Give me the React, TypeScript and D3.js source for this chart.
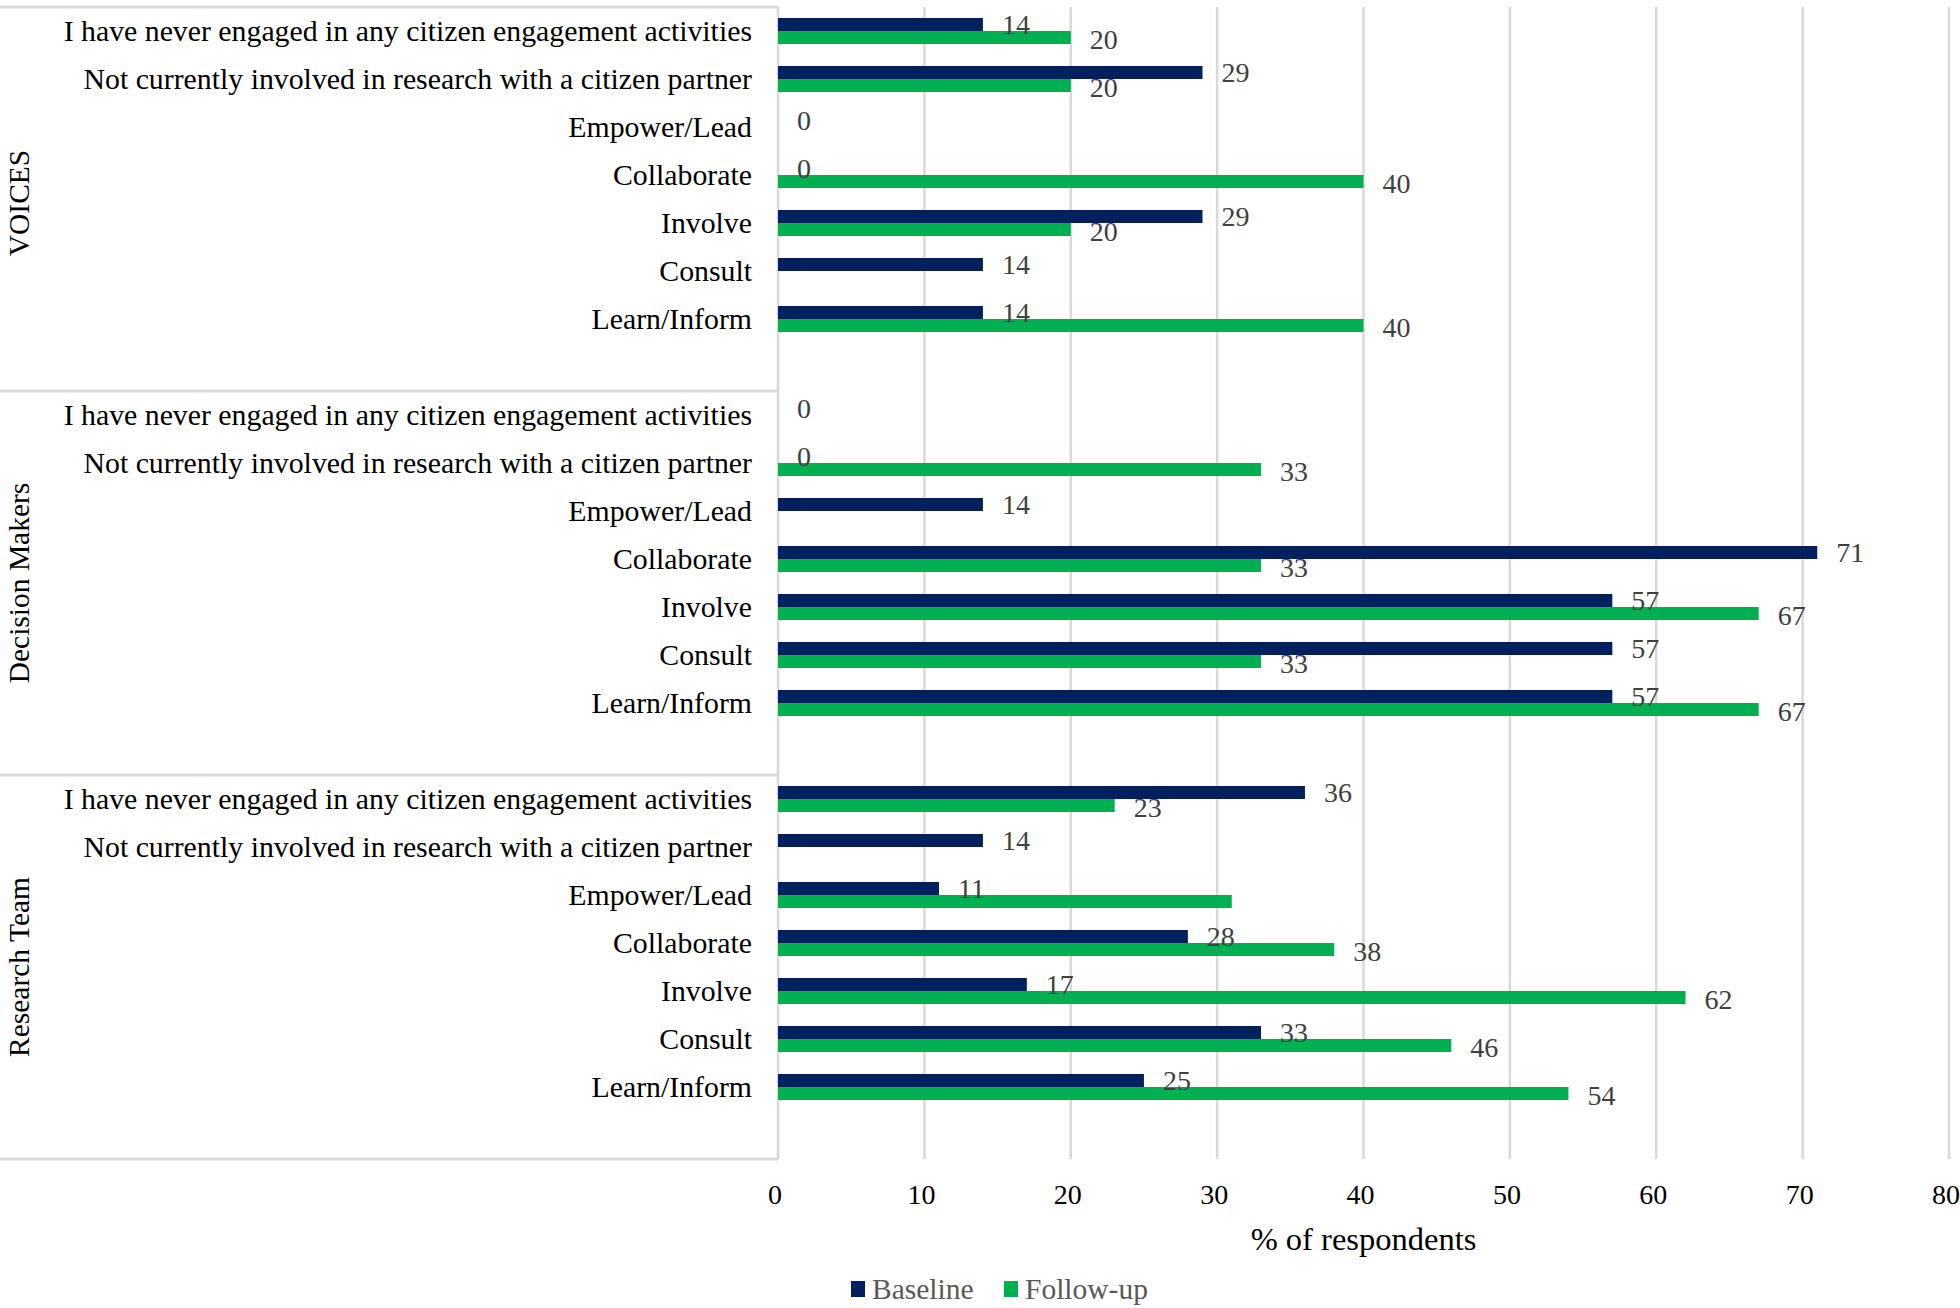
import React from "react";
import * as d3 from "d3";

const groups = ["VOICES", "Decision Makers", "Research Team"];
const categories = [
  "I have never engaged in any citizen engagement activities",
  "Not currently involved in research with a citizen partner",
  "Empower/Lead",
  "Collaborate",
  "Involve",
  "Consult",
  "Learn/Inform",
];
const seriesNames = ["Baseline", "Follow-up"];
// values per group, in category order (null = no bar / no label)
const baselineVoices = [14, 29, 0, 0, 29, 14, 14];
const followupVoices = [20, 20, null, 40, 20, null, 40];
const baselineDecision = [0, 0, 14, 71, 57, 57, 57];
const followupDecision = [null, 33, null, 33, 67, 33, 67];
const baselineResearch = [36, 14, 11, 28, 17, 33, 25];
const followupResearch = [23, null, 31, 38, 62, 46, 54];
// label shown for each follow-up value (Research Team Empower/Lead has no label)
const followupResearchLabelShown = [true, true, false, true, true, true, true];
const xTicks = [0, 10, 20, 30, 40, 50, 60, 70, 80];
const xTitle = "% of respondents";

const COLORS = { Baseline: "#002060", "Follow-up": "#00B050" };
const W = 1960;
const H = 1308;
const FONT = "'Liberation Serif', 'Times New Roman', serif";

export default function App() {
  const baseline = [baselineVoices, baselineDecision, baselineResearch];
  const followup = [followupVoices, followupDecision, followupResearch];
  const slotsPerGroup = categories.length + 1;
  const slotKeys = d3.range(groups.length * slotsPerGroup).map(String);

  const plotTop = 7;
  const plotBottom = 1159;
  const axisX = 778;
  const x = d3.scaleLinear().domain([0, 80]).range([axisX, 1949]);
  const y = d3.scaleBand<string>().domain(slotKeys).range([plotTop, plotBottom]).padding(0);
  const barPairH = 26;

  const rows: any[] = [];
  groups.forEach((g, gi) => {
    categories.forEach((c, ci) => {
      const key = String(gi * slotsPerGroup + ci);
      const center = (y(key) as number) + y.bandwidth() / 2;
      const inner = d3
        .scaleBand<string>()
        .domain(seriesNames)
        .range([center - barPairH / 2, center + barPairH / 2]);
      rows.push({
        g,
        gi,
        c,
        ci,
        center,
        inner,
        b: baseline[gi][ci],
        f: followup[gi][ci],
        fShow: gi === 2 ? followupResearchLabelShown[ci] : true,
      });
    });
  });

  const groupTop = (gi: number) => y(String(gi * slotsPerGroup)) as number;
  const groupH = y.bandwidth() * slotsPerGroup;
  const sepYs = [0, 1, 2].map(groupTop).concat([plotBottom]);
  const lineColor = "#D9D9D9";

  return (
    <div style={{ position: "absolute", left: 0, top: 0 }}>
      <svg width={W} height={H} style={{ display: "block", background: "#fff" }} fontFamily={FONT}>
        <rect x={0} y={0} width={W} height={H} fill="#fff" />
        {/* gridlines */}
        {xTicks.map((t) => (
          <line key={"g" + t} x1={x(t)} x2={x(t)} y1={plotTop} y2={plotBottom} stroke={lineColor} strokeWidth={2.5} />
        ))}
        {/* group separators */}
        {sepYs.map((sy, i) => (
          <line key={"s" + i} x1={0} x2={axisX} y1={sy} y2={sy} stroke={lineColor} strokeWidth={3} />
        ))}
        {/* bars */}
        {rows.map((r, i) => (
          <g key={"r" + i}>
            {r.b !== null && r.b > 0 && (
              <rect x={x(0)} y={r.inner("Baseline")} width={x(r.b) - x(0)} height={r.inner.bandwidth()} fill={COLORS.Baseline} />
            )}
            {r.f !== null && r.f > 0 && (
              <rect x={x(0)} y={r.inner("Follow-up")} width={x(r.f) - x(0)} height={r.inner.bandwidth()} fill={COLORS["Follow-up"]} />
            )}
          </g>
        ))}
        {/* value labels */}
        {rows.map((r, i) => (
          <g key={"l" + i} fontSize={28} fill="#404040">
            {r.b !== null && (
              <text x={x(r.b) + 19} y={r.inner("Baseline") + r.inner.bandwidth() / 2} dominantBaseline="central">
                {r.b}
              </text>
            )}
            {r.f !== null && r.fShow && (
              <text x={x(r.f) + 19} y={r.inner("Follow-up") + r.inner.bandwidth() / 2 + 1.5} dominantBaseline="central">
                {r.f}
              </text>
            )}
          </g>
        ))}
        {/* category labels */}
        {rows.map((r, i) => (
          <text key={"c" + i} x={752} y={r.center - 1} textAnchor="end" dominantBaseline="central" fontSize={29.8} fill="#000">
            {r.c}
          </text>
        ))}
        {/* group labels */}
        {groups.map((g, gi) => {
          const cy = groupTop(gi) + groupH / 2 + (gi === 0 ? 4 : 0);
          return (
            <text
              key={"gl" + gi}
              transform={`translate(19,${cy}) rotate(-90)`}
              textAnchor="middle"
              dominantBaseline="central"
              fontSize={29.5}
              fill="#000"
            >
              {g}
            </text>
          );
        })}
        {/* tick labels */}
        {xTicks.map((t) => (
          <text key={"t" + t} x={x(t) - 3} y={1194} textAnchor="middle" dominantBaseline="central" fontSize={28} fill="#000">
            {t}
          </text>
        ))}
        <text x={(x(0) + x(80)) / 2} y={1239} textAnchor="middle" dominantBaseline="central" fontSize={32.5} fill="#000">
          {xTitle}
        </text>
        {/* legend */}
        {seriesNames.map((s, i) => {
          const lx = i === 0 ? 851 : 1004;
          return (
            <g key={"lg" + s}>
              <rect x={lx} y={1281} width={14} height={16} fill={(COLORS as any)[s]} />
              <text x={lx + 21} y={1289} dominantBaseline="central" fontSize={29.5} fill="#595959">
                {s}
              </text>
            </g>
          );
        })}
      </svg>
    </div>
  );
}
